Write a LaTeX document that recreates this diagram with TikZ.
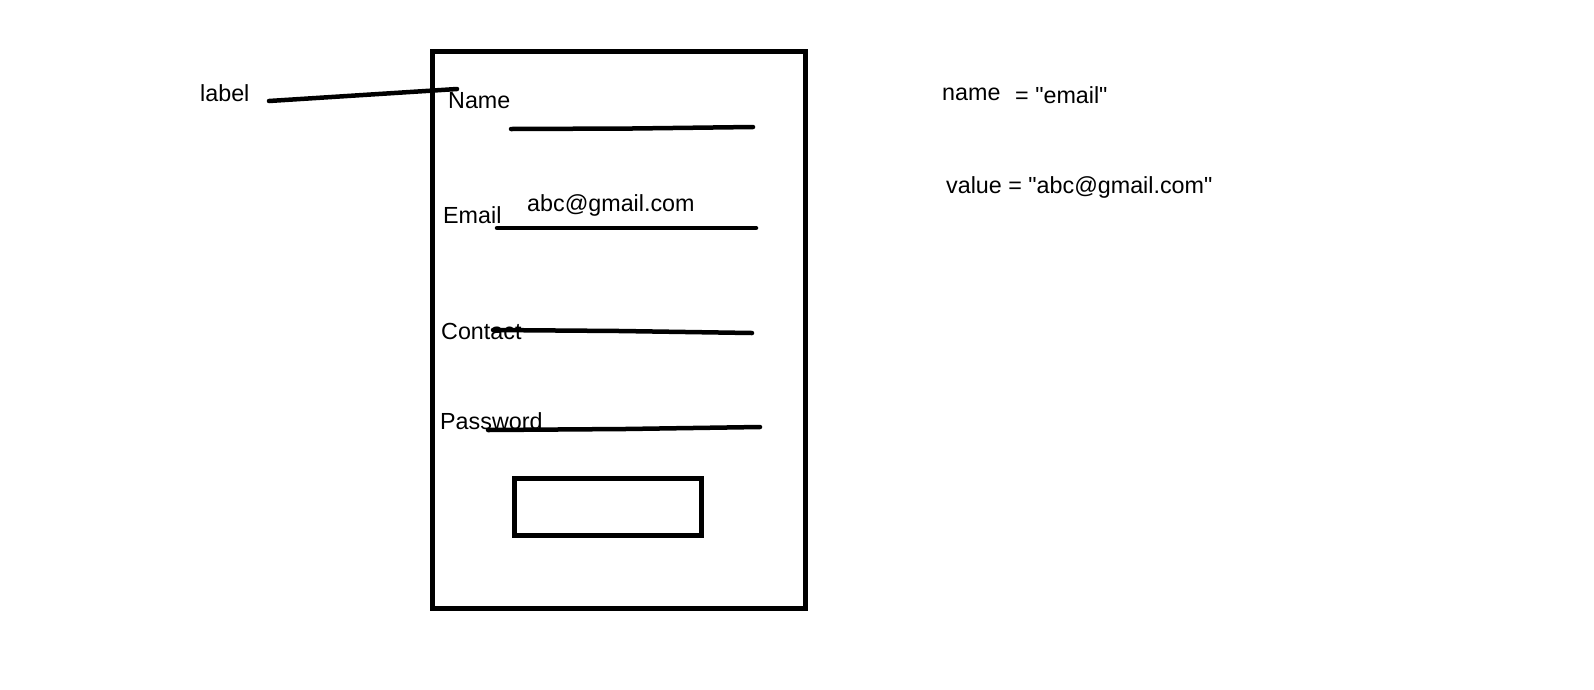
\documentclass[tikz,border=0pt]{standalone}
\usepackage{fontspec}
\setmainfont{Liberation Sans}[Ligatures=TeXOff]
\begin{document}
\begin{tikzpicture}[x=1pt,y=-1pt,
  txt/.style={anchor=base west,inner sep=0pt,font=\fontsize{23.3}{27}\selectfont},
  pen/.style={line width=4.5pt,line cap=round},
  frame/.style={line width=5pt}]
\useasboundingbox[fill=white] (0,0) rectangle (1594,689);
% form frame and button
\draw[frame] (432,51) rectangle (805,608);
\draw[frame] (514,478) rectangle (701,535);
% texts
\node[txt] (lbl) at (200,101) {label};
\node[txt] (name) at (448,108) {Name};
\node[txt] (email) at (443,223) {Email};
\node[txt] (val) at (527,211) {abc@gmail.com};
\node[txt] (contact) at (441,339) {Contact};
\node[txt] (pwd) at (440,429) {Password};
\node[txt] (attrn) at (942,100) {name};
\node[txt] (attre) at (1015,103) {= "email"};
\node[txt] (attrv) at (946,193) {value = "abc@gmail.com"};
% connector from label
\coordinate (c1) at (269,101);
\coordinate (c2) at (457,89);
\draw[pen] (c1) -- (c2);
% input lines
\draw[pen] (511,129) -- (632,128.5) -- (753,127);
\draw[pen] (497,228) -- (756,228);
\draw[pen] (493,330) -- (620,331) -- (752,333);
\draw[pen] (488,430) -- (625,429) -- (760,427);
\end{tikzpicture}
\end{document}
